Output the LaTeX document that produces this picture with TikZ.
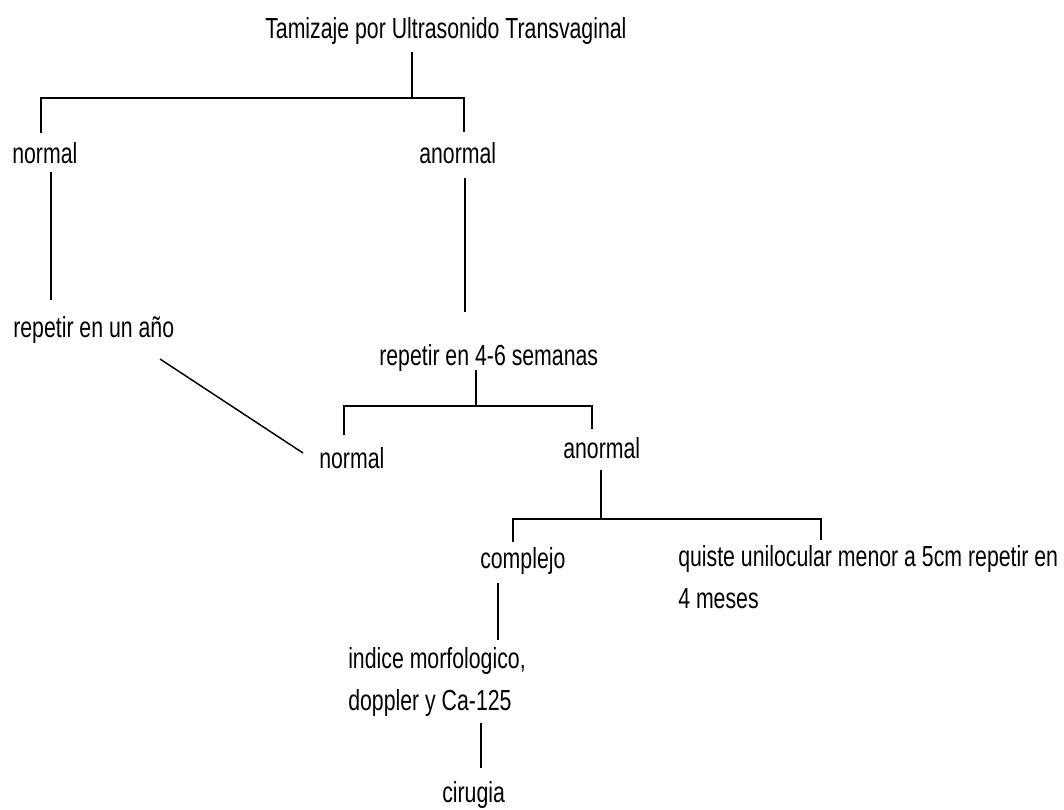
\documentclass[tikz,border=0pt]{standalone}
\usepackage{fontspec}
\setmainfont{Liberation Sans}[FakeStretch=0.734]
\begin{document}
\begin{tikzpicture}[x=0.75pt,y=-0.75pt,
  lbl/.style={anchor=base west,inner sep=0pt,font=\fontsize{21.75}{31.5}\selectfont},
  conn/.style={draw=black,line width=1.3pt},
  diag/.style={draw=black,line width=1.1pt}]
\useasboundingbox (0,0) rectangle (1064,810);
% texts
\node[lbl] (title) at (265,38) {Tamizaje por Ultrasonido Transvaginal};
\node[lbl] (n1) at (12,163) {normal};
\node[lbl] (a1) at (419,163) {anormal};
\node[lbl] (r1) at (13,337) {repetir en un año};
\node[lbl] (r2) at (379,365) {repetir en 4-6 semanas};
\node[lbl] (n2) at (319,468) {normal};
\node[lbl] (a2) at (563,458) {anormal};
\node[lbl] (c) at (480,568) {complejo};
\node[lbl,align=left] (q) at (678,608) {quiste unilocular menor a 5cm repetir en\\4 meses};
\node[lbl,align=left] (ix) at (348,710) {indice morfologico,\\doppler y Ca-125};
\node[lbl] (cir) at (442,802) {cirugia};
% connector points
\coordinate (t0) at (412,52);  \coordinate (t1) at (412,98);
\coordinate (n1top) at (41,133); \coordinate (a1top) at (464,132);
\coordinate (n1b) at (51,172); \coordinate (r1t) at (51,300);
\coordinate (a1b) at (465,178); \coordinate (r2t) at (465,312);
\coordinate (r1b) at (160,359); \coordinate (n2l) at (303,453);
\coordinate (r2b) at (476,370); \coordinate (r2j) at (476,406);
\coordinate (n2t) at (344,435); \coordinate (a2t) at (592,429);
\coordinate (a2b) at (601,470); \coordinate (a2j) at (601,519);
\coordinate (ct) at (513,542); \coordinate (qt) at (821,540);
\coordinate (cb) at (498,583); \coordinate (ixt) at (498,640);
\coordinate (ixb) at (481,723); \coordinate (cirt) at (481,768);
% connectors
\draw[conn] (t0) -- (t1);
\draw[conn] (n1top) |- (t1) -| (a1top);
\draw[conn] (n1b) -- (r1t);
\draw[conn] (a1b) -- (r2t);
\draw[diag] (r1b) -- (n2l);
\draw[conn] (r2b) -- (r2j);
\draw[conn] (n2t) |- (r2j) -| (a2t);
\draw[conn] (a2b) -- (a2j);
\draw[conn] (ct) |- (a2j) -| (qt);
\draw[conn] (cb) -- (ixt);
\draw[conn] (ixb) -- (cirt);
\end{tikzpicture}
\end{document}
